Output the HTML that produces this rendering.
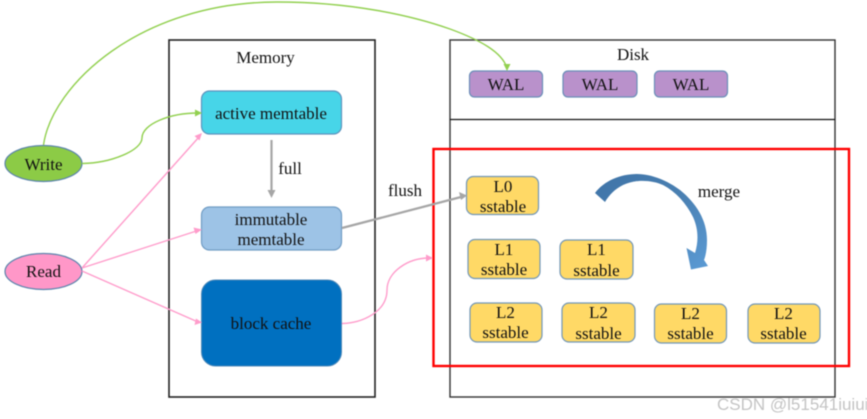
<!DOCTYPE html>
<html><head><meta charset="utf-8"><style>
html,body{margin:0;padding:0;background:#fff;width:867px;height:419px;overflow:hidden}
svg{display:block;filter:blur(.45px)}
text{font-family:"Liberation Serif",serif;font-size:17px;fill:#111;text-anchor:middle}
</style></head><body>
<svg width="867" height="419" viewBox="0 0 867 419" xmlns="http://www.w3.org/2000/svg">
<defs>
<linearGradient id="g" x1="0" y1="0" x2="1" y2="1"><stop offset="0" stop-color="#3f74a8"/><stop offset=".5" stop-color="#4a80b2"/><stop offset="1" stop-color="#5b9bd5"/></linearGradient>
</defs>
<!-- containers -->
<rect x="169" y="40" width="206" height="357" fill="#fff" stroke="#222" stroke-width="1.6"/>
<rect x="450" y="40" width="385" height="357" fill="#fff" stroke="#333" stroke-width="1.4"/>
<line x1="450" y1="119.5" x2="835" y2="119.5" stroke="#111" stroke-width="1.3"/>
<!-- red box -->
<rect x="433.5" y="149" width="415.5" height="217" fill="none" stroke="#f00" stroke-width="2.4"/>
<!-- nodes -->
<ellipse cx="43.5" cy="163.5" rx="38.5" ry="18" fill="#8ccb46" stroke="#5b84ad" stroke-width="1.2"/>
<ellipse cx="43.5" cy="271.5" rx="38.5" ry="18" fill="#ff97c8" stroke="#5b84ad" stroke-width="1.2"/>
<rect x="201.500" y="91" width="140" height="43" rx="8" fill="#47d5e8" stroke="#5e93bd" stroke-width="1.2"/>
<rect x="201.500" y="207" width="140" height="43" rx="8" fill="#9dc3e6" stroke="#709cc4" stroke-width="1.2"/>
<rect x="201.500" y="280" width="140" height="86" rx="14" fill="#0070c0" stroke="#4d88b8" stroke-width="1"/>
<g fill="#b991cb" stroke="#6a8fb8" stroke-width="1.2">
<rect x="469.500" y="71" width="73" height="26" rx="5"/>
<rect x="563" y="71" width="74" height="26" rx="5"/>
<rect x="654.500" y="71" width="73" height="26" rx="5"/>
</g>
<g fill="#ffd966" stroke="#7297b8" stroke-width="1.2">
<rect x="466.500" y="176.500" width="72" height="38" rx="7"/>
<rect x="468" y="239.500" width="72" height="39" rx="7"/>
<rect x="560" y="240" width="73" height="39" rx="7"/>
<rect x="470" y="303" width="72" height="39" rx="7"/>
<rect x="562" y="303" width="73" height="39" rx="7"/>
<rect x="654.500" y="304" width="72" height="39" rx="7"/>
<rect x="748" y="304" width="72" height="39" rx="7"/>
</g>
<!-- green connectors -->
<g fill="none" stroke="#92d050" stroke-width="1.4">
<path d="M43.500 145C52 85 140 2 277 2C350 2 410 15 450 29C480 40 502 52 507 68"/>
<path d="M82 163.500C112 163 142 150 142 138C142 124 170 113 198 113"/>
</g>
<path d="M507 71L503.500 64L510.500 64Z" fill="#92d050"/>
<path d="M202 113L195 109.500L195 116.500Z" fill="#92d050"/>
<!-- pink connectors -->
<g fill="none" stroke="#ff9ccb" stroke-width="1.4">
<line x1="82" y1="268" x2="199" y2="137"/>
<line x1="82" y1="268" x2="198" y2="230.500"/>
<line x1="82" y1="271" x2="198" y2="322"/>
<path d="M342 323.500C362 323 387 312 387 290C387 272 408 258 429 258"/>
</g>
<path d="M202 133L199.500 140.500L194.500 136Z" fill="#ff9ccb"/>
<path d="M202 229.500L195.500 234L193.500 227.500Z" fill="#ff9ccb"/>
<path d="M202 322.500L194.500 325L196 318.500Z" fill="#ff9ccb"/>
<path d="M433 258L426 254.500L426 261.500Z" fill="#ff9ccb"/>
<!-- gray connectors -->
<line x1="271.500" y1="140" x2="271.500" y2="192" stroke="#a6a6a6" stroke-width="2.2"/>
<path d="M271.500 198L267.500 190L275.500 190Z" fill="#a6a6a6"/>
<line x1="342" y1="228" x2="461" y2="197" stroke="#a6a6a6" stroke-width="2.2"/>
<path d="M467 195.500L459 192L461 200Z" fill="#a6a6a6"/>
<!-- merge arrow -->
<path d="M595 193C604 181 620 174 637 174C652 174 668 181 680 190C696 203 707 220 707 240C707 248 706 255 704 260L708 266L691 269.500L686.500 248L695 253C699 240 698 228 693 217C686 203 676 192 663 185C652 180 635 179 623 185C615 189 609 195 605 202Z" fill="url(#g)"/>
<!-- labels -->
<text x="265.500" y="63">Memory</text>
<text x="633" y="60">Disk</text>
<text x="43.500" y="170">Write</text>
<text x="43.500" y="277">Read</text>
<text x="271" y="119">active memtable</text>
<text x="290" y="174">full</text>
<text x="405" y="196">flush</text>
<text x="271" y="225">immutable</text>
<text x="271" y="245">memtable</text>
<text x="271" y="329">block cache</text>
<text x="506" y="90">WAL</text>
<text x="600" y="90">WAL</text>
<text x="691" y="90">WAL</text>
<text x="719" y="197">merge</text>
<text x="503" y="192">L0</text><text x="503" y="212">sstable</text>
<text x="504" y="255">L1</text><text x="504" y="275">sstable</text>
<text x="596.500" y="255">L1</text><text x="596.500" y="276">sstable</text>
<text x="505.500" y="318">L2</text><text x="505.500" y="338">sstable</text>
<text x="598.500" y="318">L2</text><text x="598.500" y="339">sstable</text>
<text x="690.500" y="319">L2</text><text x="690.500" y="339">sstable</text>
<text x="783.500" y="319">L2</text><text x="783.500" y="339">sstable</text>
<text x="717" y="410" style="font-family:'Liberation Sans',sans-serif;font-size:17px;fill:#c4c4c4;text-anchor:start">CSDN @l51541iuiui</text>
</svg>
</body></html>
